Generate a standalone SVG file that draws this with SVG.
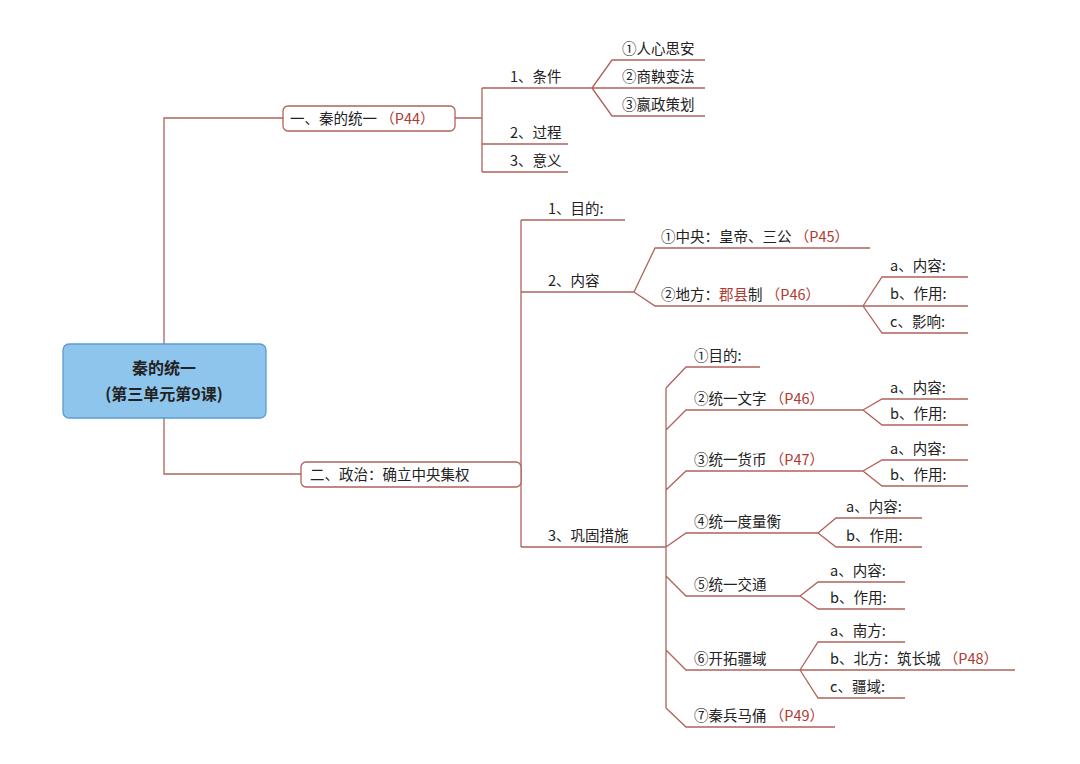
<svg xmlns="http://www.w3.org/2000/svg" width="1080" height="764" viewBox="0 0 1080 764">
<style>
text{font-family:"Noto Sans CJK SC","Liberation Sans",sans-serif;font-size:14.5px;fill:#222}
.r{fill:#b03a32}
path,line{fill:none;stroke:#b0625c;stroke-width:1.3}
.box{fill:#fff;stroke:#b0625c;stroke-width:1.3}
</style>
<rect width="1080" height="764" fill="#fff"/>
<g id="connectors">
<path d="M164 344V118H283M164 418V474H301"/>
<path d="M455 118H482M482 88V172M482 88H592M482 144H568M482 172H568"/>
<path d="M592 88L612 60H705M592 88H705M592 88L612 116H705"/>
<path d="M521 474H521M521 220V547M521 220H625M521 292H634M521 547H666"/>
<path d="M634 292L655 248H870M634 292L655 306H863"/>
<path d="M863 306L882 277H968M863 306H968M863 306L882 333H968"/>
<path d="M666 388V708M666 388L686 367H760M666 430L686 410H863M666 490L686 471H863M666 547L686 533H818M666 576L686 596H800M666 650L686 670H800M666 708L686 727H835"/>
<path d="M863 410L882 399H968M863 410L882 425H968M863 471L882 460H968M863 471L882 486H968"/>
<path d="M818 533L836 518H922M818 533L836 547H922"/>
<path d="M800 596L818 582H905M800 596L818 609H905"/>
<path d="M800 670L818 642H905M800 670H1015M800 670L818 698H905"/>
</g>
<g id="root"><rect x="63" y="344" width="203" height="74" rx="6" fill="#8ec5ec" stroke="#5b9bd5" stroke-width="1.3"/>
<text x="164" y="374" text-anchor="middle" style="font-size:16px;font-weight:bold">秦的统一</text>
<text x="164" y="400" text-anchor="middle" style="font-size:16px;font-weight:bold">(第三单元第9课)</text></g>
<g id="n1"><rect class="box" x="283" y="106" width="172" height="25" rx="5"/><text x="290" y="124">一、秦的统一 <tspan class="r">（P44）</tspan></text></g>
<g id="n2"><rect class="box" x="301" y="462" width="220" height="25" rx="5"/><text x="310" y="480">二、政治：确立中央集权</text></g>
<g id="labels">
<text x="510" y="82">1、条件</text>
<text x="510" y="138">2、过程</text>
<text x="510" y="166">3、意义</text>
<text x="622" y="54">①人心思安</text>
<text x="622" y="82">②商鞅变法</text>
<text x="622" y="110">③嬴政策划</text>
<text x="548" y="214">1、目的:</text>
<text x="548" y="286">2、内容</text>
<text x="548" y="541">3、巩固措施</text>
<text x="661" y="242">①中央：皇帝、三公 <tspan class="r">（P45）</tspan></text>
<text x="661" y="300">②地方：<tspan class="r">郡县</tspan>制 <tspan class="r">（P46）</tspan></text>
<text x="890" y="271">a、内容:</text>
<text x="890" y="299">b、作用:</text>
<text x="890" y="327">c、影响:</text>
<text x="694" y="361">①目的:</text>
<text x="694" y="404">②统一文字 <tspan class="r">（P46）</tspan></text>
<text x="694" y="465">③统一货币 <tspan class="r">（P47）</tspan></text>
<text x="694" y="527">④统一度量衡</text>
<text x="694" y="590">⑤统一交通</text>
<text x="694" y="664">⑥开拓疆域</text>
<text x="694" y="721">⑦秦兵马俑 <tspan class="r">（P49）</tspan></text>
<text x="890" y="393">a、内容:</text>
<text x="890" y="419">b、作用:</text>
<text x="890" y="454">a、内容:</text>
<text x="890" y="480">b、作用:</text>
<text x="846" y="512">a、内容:</text>
<text x="846" y="541">b、作用:</text>
<text x="830" y="576">a、内容:</text>
<text x="830" y="603">b、作用:</text>
<text x="830" y="636">a、南方:</text>
<text x="830" y="664">b、北方：筑长城 <tspan class="r">（P48）</tspan></text>
<text x="830" y="692">c、疆域:</text>
</g>
</svg>
